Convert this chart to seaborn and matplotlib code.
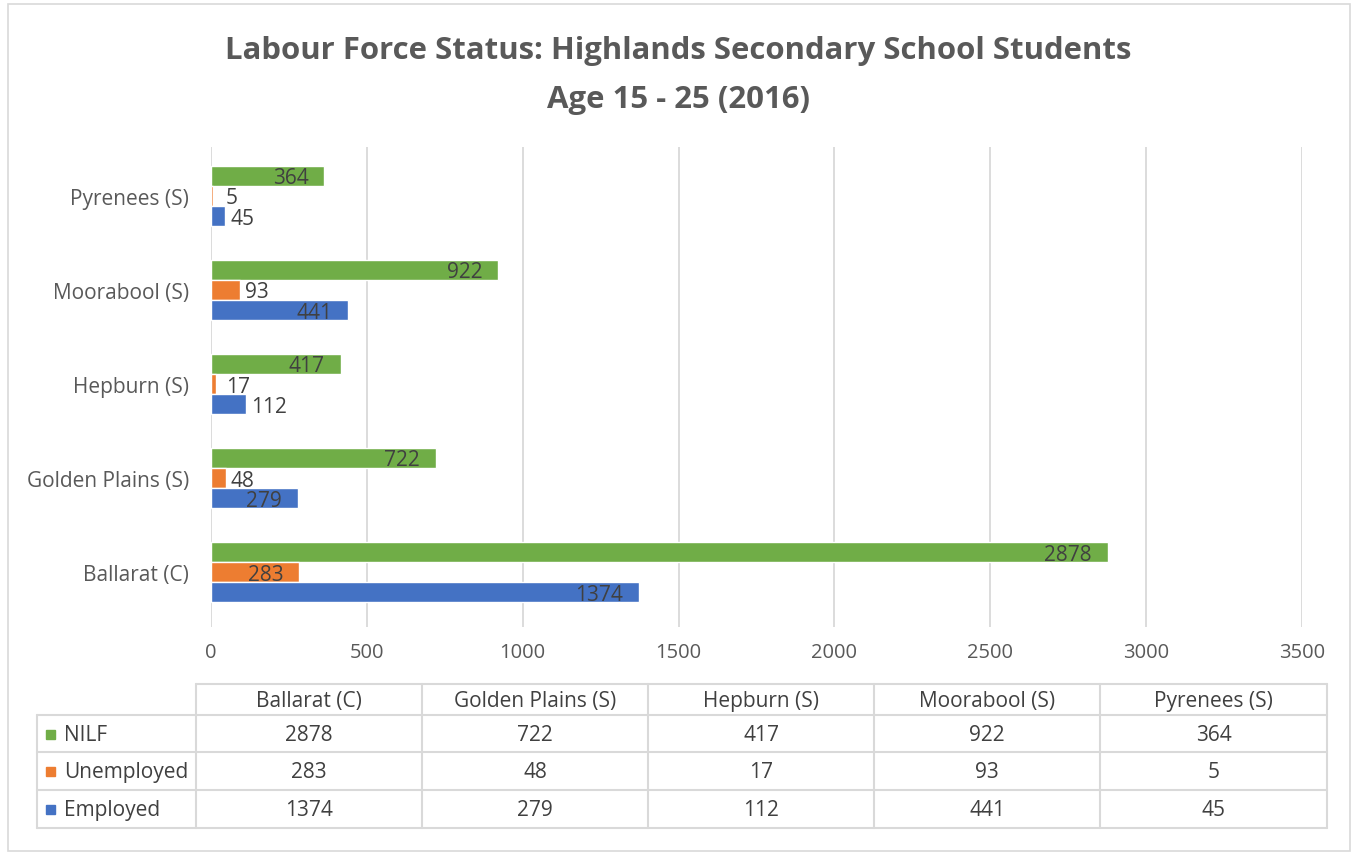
import pandas as pd
import numpy as np
import matplotlib
matplotlib.use("Agg")
import matplotlib.pyplot as plt
import seaborn as sns
from matplotlib.patches import Rectangle
from matplotlib.lines import Line2D

# Data
AREAS = ["Ballarat (C)", "Golden Plains (S)", "Hepburn (S)", "Moorabool (S)", "Pyrenees (S)"]
NILF = [2878, 722, 417, 922, 364]
UNEMPLOYED = [283, 48, 17, 93, 5]
EMPLOYED = [1374, 279, 112, 441, 45]
STATUSES = ["NILF", "Unemployed", "Employed"]
COLORS = {"NILF": "#70AD47", "Unemployed": "#ED7D31", "Employed": "#4472C4"}
XTICKS = [0, 500, 1000, 1500, 2000, 2500, 3000, 3500]

df = pd.DataFrame({"area": AREAS, "NILF": NILF, "Unemployed": UNEMPLOYED, "Employed": EMPLOYED})
long_df = df.melt(id_vars="area", var_name="status", value_name="count")

sns.set_style("white")
plt.rcParams["font.family"] = ["Open Sans", "DejaVu Sans"]

W, H = 1357, 853
fig = plt.figure(figsize=(W / 100, H / 100), dpi=100)


def fx(px):
    return px / W


def fy(py):
    return 1 - py / H


# outer chart border
fig.patches.append(Rectangle((fx(8), fy(852)), fx(1350) - fx(8), fy(5) - fy(852),
                             transform=fig.transFigure, fill=False,
                             edgecolor="#D9D9D9", linewidth=1.2))

fig.text(0.5, fy(51), "Labour Force Status: Highlands Secondary School Students",
         ha="center", va="center", fontsize=22.4, fontweight="bold", color="#595959")
fig.text(0.5, fy(100), "Age 15 - 25 (2016)",
         ha="center", va="center", fontsize=22.4, fontweight="bold", color="#595959")

# main axes
X0, X1 = 211, 1302
ax = fig.add_axes([fx(X0), fy(628), fx(X1) - fx(X0), fy(148) - fy(628)])
sns.barplot(data=long_df, y="area", x="count", hue="status",
            order=AREAS[::-1], hue_order=STATUSES, palette=COLORS,
            orient="h", width=0.64, gap=0, saturation=1, legend=False, ax=ax)

ax.set_xlim(0, 3500)
ax.set_ylim(4.585, -0.52)
ax.set_xticks(XTICKS)
ax.set_xlabel("")
ax.set_ylabel("")
ax.grid(axis="x", color="#D9D9D9", linewidth=1.3)
ax.set_axisbelow(True)
for s in ax.spines.values():
    s.set_visible(False)
ax.tick_params(axis="both", length=0, colors="#595959")
ax.tick_params(axis="x", pad=11, labelsize=14.5)
ax.tick_params(axis="y", pad=16, labelsize=15)

# data labels: inside end when they fit, otherwise just outside
px_per_unit = (X1 - X0) / 3500
for bar in ax.patches:
    w = bar.get_width()
    if bar.get_height() == 0:
        continue
    yc = bar.get_y() + bar.get_height() / 2 + 0.022
    txt = f"{int(round(w))}"
    tw = len(txt) * 12
    if w * px_per_unit > tw + 20:
        ax.text(w - 16 / px_per_unit, yc, txt, ha="right", va="center",
                fontsize=15, color="#404040")
    else:
        xl = max(w * px_per_unit + 5, 15) / px_per_unit
        ax.text(xl, yc, txt, ha="left", va="center",
                fontsize=15, color="#404040")

# data table
tab = fig.add_axes([0, 0, 1, 1])
tab.set_xlim(0, W)
tab.set_ylim(H, 0)
tab.axis("off")
gc = "#D9D9D9"
col_x = [196, 422, 648, 874, 1100, 1327]
row_y = [685, 716, 753, 791, 829]
left = 37
# horizontal lines
tab.add_line(Line2D([col_x[0], col_x[-1]], [row_y[0]] * 2, color=gc, lw=1.5))
for yy in row_y[1:]:
    tab.add_line(Line2D([left, col_x[-1]], [yy] * 2, color=gc, lw=1.5))
# vertical lines
tab.add_line(Line2D([left, left], [row_y[1], row_y[-1]], color=gc, lw=1.5))
for xx in col_x:
    tab.add_line(Line2D([xx, xx], [row_y[0], row_y[-1]], color=gc, lw=1.5))

for i, area in enumerate(AREAS):
    cx = (col_x[i] + col_x[i + 1]) / 2
    tab.text(cx, (row_y[0] + row_y[1]) / 2 + 1, area, ha="center", va="center",
             fontsize=15, color="#404040")

for r, status in enumerate(STATUSES):
    cy = (row_y[r + 1] + row_y[r + 2]) / 2 + 1
    tab.add_patch(Rectangle((46, cy - 5), 9, 9, color=COLORS[status]))
    tab.text(64, cy, status, ha="left", va="center", fontsize=15, color="#404040")
    for i in range(len(AREAS)):
        cx = (col_x[i] + col_x[i + 1]) / 2
        tab.text(cx, cy, str(df[status][i]), ha="center", va="center",
                 fontsize=15, color="#404040")

fig.savefig("out.png", dpi=100)
